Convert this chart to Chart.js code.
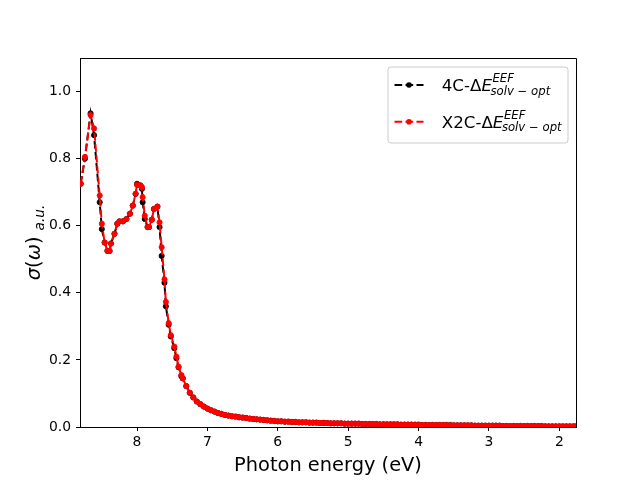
<!DOCTYPE html>
<html><head><meta charset="utf-8">
<script src="https://cdn.jsdelivr.net/npm/chart.js@4.4.0/dist/chart.umd.min.js"></script>
<style>html,body{margin:0;padding:0;background:#fff;}#wrap{width:640px;height:480px;}</style>
</head><body><div id="wrap"><canvas id="c" width="640" height="480"></canvas></div>
<script>
// Peak region (eV) and values for each series
const peakEnergy = [8.80, 8.74, 8.66, 8.61, 8.53, 8.50, 8.46, 8.42, 8.39, 8.37, 8.32, 8.28, 8.25, 8.20, 8.15, 8.10, 8.06, 8.02, 8.00, 7.95, 7.93, 7.92, 7.89, 7.85, 7.83, 7.79, 7.76, 7.71, 7.68, 7.65, 7.61, 7.59, 7.55, 7.52, 7.47, 7.44, 7.41, 7.37];
const x2cPeak = [0.725, 0.805, 0.93, 0.89, 0.69, 0.606, 0.55, 0.525, 0.525, 0.547, 0.576, 0.606, 0.613, 0.613, 0.62, 0.636, 0.66, 0.695, 0.722, 0.72, 0.715, 0.685, 0.63, 0.596, 0.596, 0.618, 0.65, 0.657, 0.61, 0.536, 0.44, 0.373, 0.31, 0.274, 0.24, 0.21, 0.18, 0.155];
const fourCPeak = [0.725, 0.80, 0.935, 0.87, 0.67, 0.59, 0.55, 0.525, 0.525, 0.547, 0.576, 0.606, 0.613, 0.613, 0.62, 0.636, 0.66, 0.695, 0.725, 0.72, 0.71, 0.67, 0.62, 0.596, 0.596, 0.618, 0.65, 0.657, 0.596, 0.51, 0.43, 0.36, 0.305, 0.27, 0.235, 0.205, 0.178, 0.152];
// Tail region (eV), both series coincide here
const tailEnergy = [7.35, 7.30, 7.25, 7.20, 7.15, 7.10, 7.05, 7.00, 6.95, 6.90, 6.85, 6.80, 6.75, 6.70, 6.65, 6.60, 6.55, 6.50, 6.45, 6.40, 6.35, 6.30, 6.25, 6.20, 6.15, 6.10, 6.05, 6.00, 5.95, 5.90, 5.85, 5.80, 5.75, 5.70, 5.65, 5.60, 5.55, 5.50, 5.45, 5.40, 5.35, 5.30, 5.25, 5.20, 5.15, 5.10, 5.05, 5.00,
  4.95, 4.90, 4.85, 4.80, 4.75, 4.70, 4.65, 4.60, 4.55, 4.50, 4.45, 4.40, 4.35, 4.30, 4.25, 4.20, 4.15, 4.10, 4.05, 4.00,
  3.95, 3.90, 3.85, 3.80, 3.75, 3.70, 3.65, 3.60, 3.55, 3.50, 3.45, 3.40, 3.35, 3.30, 3.25, 3.20, 3.15, 3.10, 3.05, 3.00,
  2.95, 2.90, 2.85, 2.80, 2.75, 2.70, 2.65, 2.60, 2.55, 2.50, 2.45, 2.40, 2.35, 2.30, 2.25, 2.20, 2.15, 2.10, 2.05, 2.00,
  1.95, 1.90, 1.85, 1.80, 1.76];
const tailValues = [0.145, 0.122, 0.102, 0.088, 0.076, 0.068, 0.061, 0.055, 0.050, 0.046, 0.042, 0.039, 0.036, 0.034, 0.032, 0.031, 0.029, 0.028, 0.027, 0.025, 0.024, 0.023, 0.022, 0.021, 0.020, 0.019, 0.018, 0.017, 0.017, 0.016, 0.016, 0.015, 0.015, 0.014, 0.014, 0.014, 0.013, 0.013, 0.013, 0.012, 0.012, 0.012, 0.011, 0.011, 0.011, 0.011, 0.010, 0.010,
  0.010, 0.010, 0.010, 0.009, 0.009, 0.009, 0.009, 0.009, 0.008, 0.008, 0.008, 0.008, 0.008, 0.008, 0.007, 0.007, 0.007, 0.007, 0.007, 0.007,
  0.006, 0.006, 0.006, 0.006, 0.006, 0.006, 0.006, 0.006, 0.006, 0.005, 0.005, 0.005, 0.005, 0.005, 0.005, 0.004, 0.004, 0.004, 0.004, 0.004,
  0.004, 0.004, 0.004, 0.003, 0.003, 0.003, 0.003, 0.003, 0.003, 0.003, 0.003, 0.003, 0.003, 0.003, 0.003, 0.002, 0.002, 0.002, 0.002, 0.002,
  0.002, 0.002, 0.002, 0.002, 0.002];
const xTicks = [8, 7, 6, 5, 4, 3, 2];
const yTicks = [0.0, 0.2, 0.4, 0.6, 0.8, 1.0];
const legendLabels = ['4C-', 'X2C-'];

const FONT = 'DejaVu Sans';
function pts(xs, ys) { return xs.map((x, i) => ({x: x, y: ys[i]})); }
const fourCData = pts(peakEnergy.concat(tailEnergy), fourCPeak.concat(tailValues));
const x2cData = pts(peakEnergy.concat(tailEnergy), x2cPeak.concat(tailValues));
const DASH = [7.7, 3.3];

function drawMathLabel(ctx, x, base, prefix) {
  ctx.textAlign = 'left'; ctx.textBaseline = 'alphabetic'; ctx.fillStyle = '#000';
  ctx.font = '16.7px "' + FONT + '"';
  const t1 = prefix + '\u0394';
  ctx.fillText(t1, x, base);
  let w = ctx.measureText(t1).width;
  ctx.font = 'italic 16.7px "' + FONT + '"';
  ctx.fillText('E', x + w, base);
  w += ctx.measureText('E').width;
  ctx.font = 'italic 11.7px "' + FONT + '"';
  ctx.fillText('EEF', x + w + 0.5, base - 9);
  ctx.fillText('solv \u2212 opt', x + w - 1.5, base + 3.8);
}

const decor = {
  id: 'decor',
  beforeDraw(chart) {
    const ctx = chart.ctx;
    ctx.save(); ctx.fillStyle = '#fff'; ctx.fillRect(0, 0, chart.width, chart.height); ctx.restore();
  },
  afterDraw(chart) {
    const ctx = chart.ctx, a = chart.chartArea;
    ctx.save();
    // top and right spines
    ctx.strokeStyle = '#000'; ctx.lineWidth = 1;
    ctx.beginPath();
    ctx.moveTo(a.left, a.top + 0.5); ctx.lineTo(a.right + 0.5, a.top + 0.5); ctx.lineTo(a.right + 0.5, a.bottom);
    ctx.stroke();
    // x title
    ctx.fillStyle = '#000';
    ctx.font = '19.4px "' + FONT + '"';
    ctx.textAlign = 'center'; ctx.textBaseline = 'alphabetic';
    ctx.fillText('Photon energy (eV)', (a.left + a.right) / 2, 471);
    // y title
    ctx.save();
    ctx.translate(40, (a.top + a.bottom) / 2);
    ctx.rotate(-Math.PI / 2);
    ctx.textAlign = 'left';
    const parts = [
      ['italic 19.4px', '\u03C3', 0], ['19.4px', '(', 0], ['italic 19.4px', '\u03C9', 0], ['19.4px', ')', 0],
      ['19.4px', ' ', 0], ['italic 13.6px', 'a.u.', 3.5]
    ];
    let total = 0;
    parts.forEach(p => { ctx.font = p[0] + ' "' + FONT + '"'; p.push(ctx.measureText(p[1]).width); total += p[3]; });
    let cx = -total / 2;
    parts.forEach(p => { ctx.font = p[0] + ' "' + FONT + '"'; ctx.fillText(p[1], cx, p[2]); cx += p[3]; });
    ctx.restore();
    // legend
    const lx = 388, ly = 67, lw = 180, lh = 76, r = 3;
    ctx.beginPath();
    ctx.moveTo(lx + r, ly); ctx.lineTo(lx + lw - r, ly); ctx.quadraticCurveTo(lx + lw, ly, lx + lw, ly + r);
    ctx.lineTo(lx + lw, ly + lh - r); ctx.quadraticCurveTo(lx + lw, ly + lh, lx + lw - r, ly + lh);
    ctx.lineTo(lx + r, ly + lh); ctx.quadraticCurveTo(lx, ly + lh, lx, ly + lh - r);
    ctx.lineTo(lx, ly + r); ctx.quadraticCurveTo(lx, ly, lx + r, ly); ctx.closePath();
    ctx.fillStyle = 'rgba(255,255,255,0.8)'; ctx.fill();
    ctx.strokeStyle = '#cccccc'; ctx.lineWidth = 1; ctx.stroke();
    const rows = [
      {y: 85, color: '#000000', label: legendLabels[0]},
      {y: 121.7, color: '#ff0000', label: legendLabels[1]}
    ];
    rows.forEach(rw => {
      ctx.strokeStyle = rw.color; ctx.lineWidth = 2; ctx.setLineDash(DASH);
      ctx.beginPath(); ctx.moveTo(394.5, rw.y); ctx.lineTo(423.5, rw.y); ctx.stroke();
      ctx.setLineDash([]);
      ctx.fillStyle = rw.color;
      ctx.beginPath(); ctx.arc(409, rw.y, 2.8, 0, Math.PI * 2); ctx.fill();
      drawMathLabel(ctx, 441.7, rw.y + 5.8, rw.label);
    });
    ctx.restore();
  }
};

const tickFont = {family: FONT, size: 13.9};
new Chart(document.getElementById('c'), {
  type: 'line',
  data: {
    datasets: [
      {label: '4C', data: fourCData, borderColor: '#000', backgroundColor: '#000', borderWidth: 2, borderDash: DASH,
       pointRadius: 2.6, pointBorderWidth: 0.8, pointBackgroundColor: '#000', pointBorderColor: '#000', tension: 0, fill: false, order: 2},
      {label: 'X2C', data: x2cData, borderColor: '#ff0000', backgroundColor: '#ff0000', borderWidth: 2, borderDash: DASH,
       pointRadius: 2.6, pointBorderWidth: 0.8, pointBackgroundColor: '#ff0000', pointBorderColor: '#ff0000', tension: 0, fill: false, order: 1}
    ]
  },
  options: {
    responsive: false, animation: false, devicePixelRatio: 1,
    layout: {padding: {top: 58, right: 64, left: 0, bottom: 0}},
    plugins: {legend: {display: false}, tooltip: {enabled: false}},
    scales: {
      x: {
        type: 'linear', reverse: true, min: 1.763, max: 8.81,
        afterBuildTicks: s => { s.ticks = xTicks.map(v => ({value: v})); },
        afterFit: s => { s.height = 53; },
        grid: {drawOnChartArea: false, drawTicks: true, tickLength: 4, tickColor: '#000', tickWidth: 1},
        border: {color: '#000', width: 1},
        ticks: {color: '#000', font: tickFont, padding: 3, maxRotation: 0, autoSkip: false, callback: v => String(v)}
      },
      y: {
        type: 'linear', min: 0, max: 1.1,
        afterBuildTicks: s => { s.ticks = yTicks.map(v => ({value: v})); },
        afterFit: s => { s.width = 80; },
        grid: {drawOnChartArea: false, drawTicks: true, tickLength: 4, tickColor: '#000', tickWidth: 1},
        border: {color: '#000', width: 1},
        ticks: {color: '#000', font: tickFont, padding: 5, autoSkip: false, callback: v => Number(v).toFixed(1)}
      }
    }
  },
  plugins: [decor]
});
</script></body></html>
